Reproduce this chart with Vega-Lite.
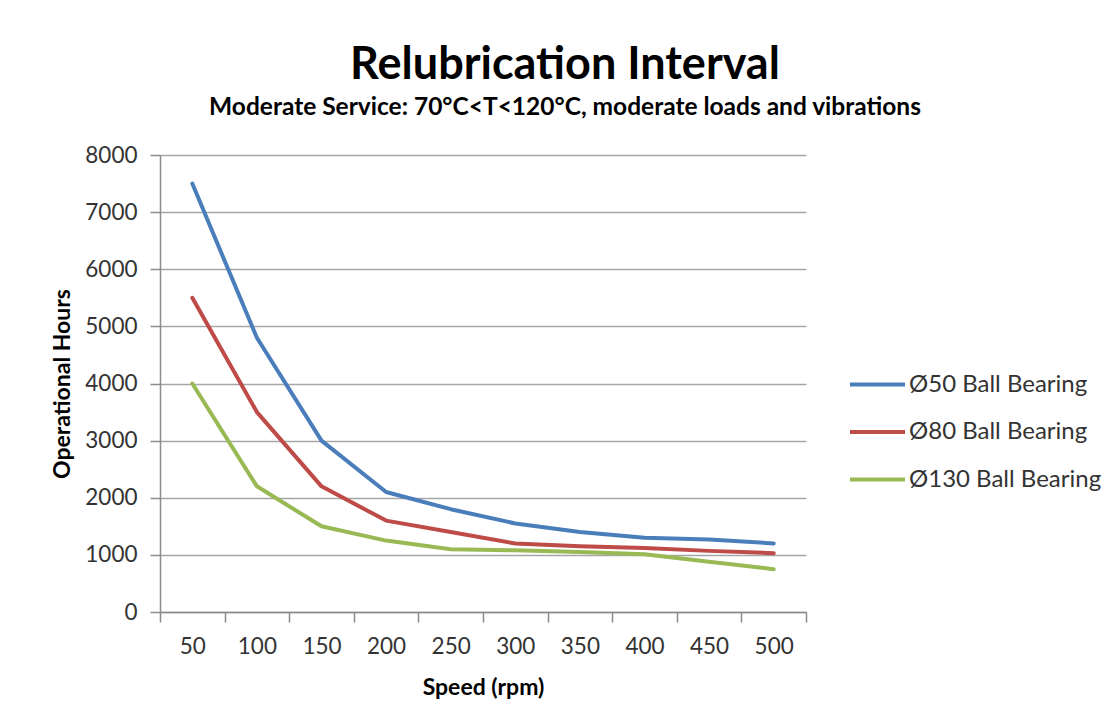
{
  "$schema": "https://vega.github.io/schema/vega-lite/v6.json",
  "width": 646,
  "height": 457,
  "autosize": {"type": "none"},
  "padding": {"left": 160, "top": 155, "right": 310, "bottom": 115},
  "background": "white",
  "config": {
    "view": {"stroke": null},
    "font": "Lato",
    "axis": {"labelFont": "Lato", "titleFont": "Lato"}
  },
  "title": {
    "text": "Relubrication Interval",
    "subtitle": "Moderate Service: 70°C<T<120°C, moderate loads and vibrations",
    "anchor": "middle",
    "dx": 82,
    "font": "Lato",
    "fontSize": 45,
    "fontWeight": "bold",
    "color": "#000000",
    "subtitleFont": "Lato",
    "subtitleFontSize": 24.5,
    "subtitleFontWeight": "bold",
    "subtitleColor": "#000000",
    "subtitlePadding": 8,
    "offset": 25
  },
  "data": {
    "values": [
      {"speed": "50", "series": "Ø50 Ball Bearing", "hours": 7500},
      {"speed": "100", "series": "Ø50 Ball Bearing", "hours": 4800},
      {"speed": "150", "series": "Ø50 Ball Bearing", "hours": 3000},
      {"speed": "200", "series": "Ø50 Ball Bearing", "hours": 2100},
      {"speed": "250", "series": "Ø50 Ball Bearing", "hours": 1800},
      {"speed": "300", "series": "Ø50 Ball Bearing", "hours": 1550},
      {"speed": "350", "series": "Ø50 Ball Bearing", "hours": 1400},
      {"speed": "400", "series": "Ø50 Ball Bearing", "hours": 1300},
      {"speed": "450", "series": "Ø50 Ball Bearing", "hours": 1270},
      {"speed": "500", "series": "Ø50 Ball Bearing", "hours": 1200},
      {"speed": "50", "series": "Ø80 Ball Bearing", "hours": 5500},
      {"speed": "100", "series": "Ø80 Ball Bearing", "hours": 3500},
      {"speed": "150", "series": "Ø80 Ball Bearing", "hours": 2200},
      {"speed": "200", "series": "Ø80 Ball Bearing", "hours": 1600},
      {"speed": "250", "series": "Ø80 Ball Bearing", "hours": 1400},
      {"speed": "300", "series": "Ø80 Ball Bearing", "hours": 1200},
      {"speed": "350", "series": "Ø80 Ball Bearing", "hours": 1150},
      {"speed": "400", "series": "Ø80 Ball Bearing", "hours": 1120},
      {"speed": "450", "series": "Ø80 Ball Bearing", "hours": 1070},
      {"speed": "500", "series": "Ø80 Ball Bearing", "hours": 1030},
      {"speed": "50", "series": "Ø130 Ball Bearing", "hours": 4000},
      {"speed": "100", "series": "Ø130 Ball Bearing", "hours": 2200},
      {"speed": "150", "series": "Ø130 Ball Bearing", "hours": 1500},
      {"speed": "200", "series": "Ø130 Ball Bearing", "hours": 1250},
      {"speed": "250", "series": "Ø130 Ball Bearing", "hours": 1100},
      {"speed": "300", "series": "Ø130 Ball Bearing", "hours": 1080},
      {"speed": "350", "series": "Ø130 Ball Bearing", "hours": 1050},
      {"speed": "400", "series": "Ø130 Ball Bearing", "hours": 1010},
      {"speed": "450", "series": "Ø130 Ball Bearing", "hours": 880},
      {"speed": "500", "series": "Ø130 Ball Bearing", "hours": 750}
    ]
  },
  "mark": {"type": "line", "strokeWidth": 4, "strokeCap": "round", "strokeJoin": "round"},
  "encoding": {
    "x": {
      "field": "speed",
      "type": "ordinal",
      "sort": ["50", "100", "150", "200", "250", "300", "350", "400", "450", "500"],
      "bandPosition": 0.5,
      "scale": {"type": "band", "paddingInner": 0, "paddingOuter": 0},
      "axis": {
        "title": "Speed (rpm)",
        "titleFontSize": 23,
        "titleFontWeight": "bold",
        "titleColor": "#000000",
        "titlePadding": 19,
        "labelAngle": 0,
        "labelFontSize": 22.5,
        "labelColor": "#333333",
        "labelPadding": 13,
        "tickBand": "extent",
        "tickSize": 10,
        "tickColor": "#8c8c8c",
        "tickWidth": 1.5,
        "domainColor": "#8c8c8c",
        "domainWidth": 1.5,
        "grid": false
      }
    },
    "y": {
      "field": "hours",
      "type": "quantitative",
      "scale": {"domain": [0, 8000], "nice": false},
      "axis": {
        "title": "Operational Hours",
        "titleFontSize": 23,
        "titleFontWeight": "bold",
        "titleColor": "#000000",
        "titlePadding": 10,
        "values": [0, 1000, 2000, 3000, 4000, 5000, 6000, 7000, 8000],
        "format": "d",
        "labelFontSize": 22.5,
        "labelColor": "#333333",
        "labelPadding": 13,
        "tickSize": 10,
        "tickColor": "#8c8c8c",
        "tickWidth": 1.5,
        "domainColor": "#8c8c8c",
        "domainWidth": 1.5,
        "grid": true,
        "gridColor": "#a6a6a6",
        "gridWidth": 1.5
      }
    },
    "color": {
      "field": "series",
      "type": "nominal",
      "scale": {
        "domain": ["Ø50 Ball Bearing", "Ø80 Ball Bearing", "Ø130 Ball Bearing"],
        "range": ["#4a7ebb", "#be4b48", "#98b954"]
      },
      "legend": {
        "title": null,
        "orient": "none",
        "legendX": 688,
        "legendY": 200,
        "symbolType": "stroke",
        "symbolSize": 3025,
        "symbolStrokeWidth": 4,
        "labelFontSize": 24,
        "labelColor": "#333333",
        "labelFont": "Lato",
        "labelOffset": 2,
        "rowPadding": 5.5,
        "labelLimit": 300
      }
    }
  }
}
